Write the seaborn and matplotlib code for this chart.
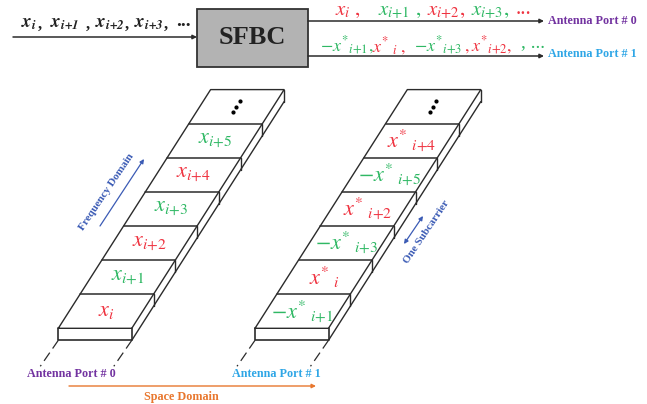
"""SFBC mapping of symbols onto antenna ports, drawn on a pixel-sized axes."""

import matplotlib.pyplot as plt
import seaborn as sns

sns.set_theme(style="white")
plt.rcParams.update({
    "font.family": ["Liberation Serif", "DejaVu Serif"],
    "mathtext.fontset": "stix",
})

RED = "#ef3340"
GREEN = "#2fb864"
PURPLE = "#7232a0"
SKY = "#2ea6e6"
ORANGE = "#e8772e"
BLUE = "#3b5bb5"
DARK = "#2b2b2b"

port0_cells = ["x_{i}", "x_{i{+}\\mathit{1}}", "x_{i{+}\\mathit{2}}", "x_{i{+}\\mathit{3}}",
               "x_{i{+}\\mathit{4}}", "x_{i{+}\\mathit{5}}"]
port0_colors = [RED, GREEN, RED, GREEN, RED, GREEN]
port1_cells = ["{-}x^{*}{}_{\\ i{+}\\mathit{1}}", "x^{*}{}_{\\ i}", "{-}x^{*}{}_{\\ i{+}\\mathit{3}}",
               "x^{*}{}_{\\ i{+}\\mathit{2}}", "{-}x^{*}{}_{\\ i{+}\\mathit{5}}", "x^{*}{}_{\\ i{+}\\mathit{4}}"]
port1_colors = [GREEN, RED, GREEN, RED, GREEN, RED]

input_row = ["\\mathbfit{x}_{\\mathbfit{i}}", "\\mathbfit{x}_{\\mathbfit{i{+}1}}",
             "\\mathbfit{x}_{\\mathbfit{i{+}2}}", "\\mathbfit{x}_{\\mathbfit{i{+}3}}"]
input_x = [21, 50, 95, 134]
input_commas_x = [38, 86, 125, 164]

top_row = ["x_{i}\\ ,", "x_{i{+}\\mathit{1}}\\ ,", "x_{i{+}\\mathit{2}},", "x_{i{+}\\mathit{3}},"]
top_x = [335, 378, 427, 471]
top_colors = [RED, GREEN, RED, GREEN]

bottom_row = ["{-}x^{*}{}_{i{+}\\mathit{1}},", "x^{*}{}_{\\ i}\\ ,", "{-}x^{*}{}_{i{+}\\mathit{3}}",
              ",x^{*}{}_{i{+}\\mathit{2}},"]
bottom_x = [320, 372, 414, 464]
bottom_colors = [GREEN, RED, GREEN, RED]

N_CELLS = 7
STEP_X, STEP_Y = 21.76, 34.1
WIDTH, THICK = 73.5, 12


def draw_strip(ax, left, base, labels, colors):
    top_l = left + N_CELLS * STEP_X
    top_y = base - N_CELLS * STEP_Y
    # upper face
    ax.plot([left, top_l, top_l + WIDTH, left + WIDTH, left],
            [base, top_y, top_y, base, base], color=DARK, lw=1.0)
    # dividers between subcarriers, with the little drop on the side face
    for k in range(1, N_CELLS):
        x0, y0 = left + k * STEP_X, base - k * STEP_Y
        ax.plot([x0, x0 + WIDTH], [y0, y0], color=DARK, lw=1.1)
        ax.plot([x0 + WIDTH] * 2, [y0, y0 + THICK], color=DARK, lw=1.0)
    # side and front faces
    ax.plot([left + WIDTH, top_l + WIDTH], [base + THICK, top_y + THICK], color=DARK, lw=1.0)
    ax.plot([top_l + WIDTH] * 2, [top_y, top_y + THICK], color=DARK, lw=1.0)
    ax.plot([left, left, left + WIDTH, left + WIDTH],
            [base, base + THICK, base + THICK, base], color=DARK, lw=1.2)
    # dashed feet
    for x0 in (left, left + WIDTH):
        ax.plot([x0, x0 - 18], [base + THICK, base + THICK + 26],
                color=DARK, lw=0.9, ls=(0, (8, 4)))
    for k, (lab, col) in enumerate(zip(labels, colors)):
        ax.text(left + WIDTH / 2 + (k + 0.5) * STEP_X, base - (k + 0.5) * STEP_Y,
                f"${lab}$", color=col, fontsize=16, ha="center", va="center")
    # vertical ellipsis in the last cell
    cx, cy = left + WIDTH / 2 + 6.5 * STEP_X, base - 6.5 * STEP_Y
    ax.scatter([cx - 3.3, cx, cx + 3.3], [cy + 5.5, cy, cy - 5.5], s=4, color="black")


def arrow(ax, x0, y0, x1, y1, color=DARK, style="-|>", lw=1.1):
    ax.annotate("", xy=(x1, y1), xytext=(x0, y0),
                arrowprops=dict(arrowstyle=style, color=color, lw=lw,
                                shrinkA=0, shrinkB=0, mutation_scale=6))


fig, ax = plt.subplots(figsize=(6.47, 4.04), dpi=100)
fig.subplots_adjust(0, 0, 1, 1)
ax.set_xlim(0, 647)
ax.set_ylim(404, 0)
ax.axis("off")

# SFBC block and its arrows
ax.fill([197, 308, 308, 197], [9, 9, 67, 67], facecolor="#b3b3b3", edgecolor="#333333", lw=1.3)
ax.text(252.5, 38, "SFBC", fontsize=19, fontweight="bold", color="#222222",
        ha="center", va="center")
arrow(ax, 13, 37, 197, 37)
arrow(ax, 308, 21, 544, 21)
arrow(ax, 308, 56, 544, 56)

for lab, x in zip(input_row, input_x):
    ax.text(x, 23, f"${lab}$", color="#222222", fontsize=13.5, va="center")
for x in input_commas_x:
    ax.text(x, 25, ",", color="#222222", fontsize=12, va="center", fontweight="bold")
ax.text(176, 22, "...", color="#222222", fontsize=14, va="center", fontweight="bold")

for lab, x, col in zip(top_row, top_x, top_colors):
    ax.text(x, 11, f"${lab}$", color=col, fontsize=15, va="center")
ax.text(516, 9, "...", color=RED, fontsize=15, va="center")
for lab, x, col in zip(bottom_row, bottom_x, bottom_colors):
    ax.text(x, 46, f"${lab}$", color=col, fontsize=13, va="center")
ax.text(521, 44, ", ...", color=GREEN, fontsize=14, va="center")

ax.text(548, 21, "Antenna Port # 0", color=PURPLE, fontsize=8.7, fontweight="bold", va="center")
ax.text(548, 54, "Antenna Port # 1", color=SKY, fontsize=8.7, fontweight="bold", va="center")

draw_strip(ax, 58.3, 328.3, port0_cells, port0_colors)
draw_strip(ax, 255, 328.3, port1_cells, port1_colors)
ax.text(71, 374, "Antenna Port # 0", color=PURPLE, fontsize=8.7, fontweight="bold",
        ha="center", va="center")
ax.text(276, 374, "Antenna Port # 1", color=SKY, fontsize=8.7, fontweight="bold",
        ha="center", va="center")

# axis-like annotations
arrow(ax, 69, 386, 316, 386, color=ORANGE, lw=1.0)
ax.text(181, 397, "Space Domain", color=ORANGE, fontsize=8.7, fontweight="bold",
        ha="center", va="center")
arrow(ax, 100, 226, 144, 159, color=BLUE, lw=0.9)
ax.text(107, 192, "Frequency Domain", color=BLUE, fontsize=8, fontweight="bold",
        rotation=56, ha="center", va="center", rotation_mode="anchor")
arrow(ax, 404, 244, 423, 216, color=BLUE, style="<|-|>", lw=0.9)
ax.text(427, 232, "One Subcarrier", color=BLUE, fontsize=8, fontweight="bold",
        rotation=56, ha="center", va="center", rotation_mode="anchor")

fig.savefig("out.png", dpi=100)
